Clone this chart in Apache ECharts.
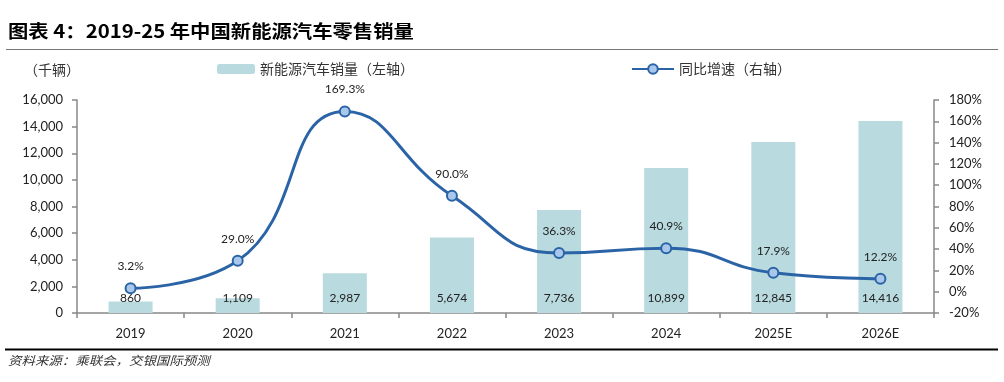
<!DOCTYPE html>
<html><head><meta charset="utf-8">
<script src="https://cdn.jsdelivr.net/npm/echarts@6/dist/echarts.min.js"></script>
<style>html,body{margin:0;padding:0;background:#fff}#c{width:1004px;height:382px}</style>
</head><body><div id="c"></div>
<script>
const categories = ['2019','2020','2021','2022','2023','2024','2025E','2026E'];
const salesValues = [860, 1109, 2987, 5674, 7736, 10899, 12845, 14416];
const growthValues = [3.2, 29.0, 169.3, 90.0, 36.3, 40.9, 17.9, 12.2];
const leftTicks = {min: 0, max: 16000, interval: 2000};
const rightTicks = {min: -20, max: 180, interval: 20};

const numFont = 'Lato, "Liberation Sans", sans-serif';
const cjkFont = '"Noto Sans CJK SC", sans-serif';
const axisGrey = '#888888';

const chart = echarts.init(document.getElementById('c'), null, {renderer: 'canvas'});
chart.setOption({
  animation: false,
  backgroundColor: '#fff',
  grid: {left: 77, right: 70, top: 100, bottom: 69},
  legend: [
    {data: [{name: '新能源汽车销量（左轴）'}], left: 212, top: 57, itemWidth: 38, itemHeight: 10, itemGap: 6,
     textStyle: {fontFamily: cjkFont, fontSize: 14, color: '#333'}},
    {data: [{name: '同比增速（右轴）'}], left: 626, top: 57, itemWidth: 42, itemHeight: 12, itemGap: 4,
     textStyle: {fontFamily: cjkFont, fontSize: 14, color: '#333'}}
  ],
  xAxis: {
    type: 'category', data: categories,
    axisLine: {lineStyle: {color: axisGrey, width: 1.5}},
    axisTick: {show: true, length: 5, lineStyle: {color: axisGrey, width: 1.5}},
    axisLabel: {fontFamily: numFont, fontSize: 13, color: '#222', margin: 14}
  },
  yAxis: [
    {type: 'value', min: leftTicks.min, max: leftTicks.max, interval: leftTicks.interval, position: 'left',
     splitLine: {show: false},
     axisLine: {show: true, lineStyle: {color: axisGrey, width: 1.5}},
     axisTick: {show: true, length: 5, lineStyle: {color: axisGrey, width: 1.5}},
     axisLabel: {fontFamily: numFont, fontSize: 13, color: '#222', margin: 14,
       formatter: v => v.toLocaleString('en-US')}},
    {type: 'value', min: rightTicks.min, max: rightTicks.max, interval: rightTicks.interval, position: 'right',
     splitLine: {show: false},
     axisLine: {show: true, lineStyle: {color: axisGrey, width: 1.5}},
     axisTick: {show: true, length: 5, lineStyle: {color: axisGrey, width: 1.5}},
     axisLabel: {fontFamily: numFont, fontSize: 13, color: '#222', margin: 15, formatter: v => v + '%'}}
  ],
  series: [
    {name: '新能源汽车销量（左轴）', type: 'bar', yAxisIndex: 0, data: salesValues, barWidth: 44,
     itemStyle: {color: '#B9DADF'},
     label: {show: true, position: 'insideBottom', distance: 9, fontFamily: numFont, fontSize: 12, color: '#222',
       formatter: p => p.value.toLocaleString('en-US')}},
    {name: '同比增速（右轴）', type: 'line', yAxisIndex: 1, data: growthValues, smooth: 0.5,
     symbol: 'circle', symbolSize: 10,
     lineStyle: {color: '#2B64A6', width: 3},
     itemStyle: {color: '#A9C7EB', borderColor: '#2B64A6', borderWidth: 2},
     label: {show: true, position: 'top', distance: 10, fontFamily: numFont, fontSize: 12, color: '#222',
       formatter: p => p.value.toFixed(1) + '%'},
     z: 5}
  ],
  graphic: [
    {type: 'text', x: 8, y: 22, scaleX: 1.13, style: {text: '图表 4：2019-25 年中国新能源汽车零售销量', font: 'bold 18px ' + cjkFont, fill: '#000'}},
    {type: 'line', shape: {x1: 6, y1: 49.5, x2: 998, y2: 49.5}, style: {stroke: '#777', lineWidth: 1}},
    {type: 'text', x: 24, y: 63, style: {text: '（千辆）', font: '14px ' + cjkFont, fill: '#333'}},
    {type: 'line', shape: {x1: 5, y1: 349.5, x2: 998, y2: 349.5}, style: {stroke: '#000', lineWidth: 2}},
    {type: 'text', x: 8, y: 354, scaleX: 1.12, style: {text: '资料来源：乘联会，交银国际预测', font: 'italic 12px ' + cjkFont, fill: '#333'}}
  ]
});
</script></body></html>
